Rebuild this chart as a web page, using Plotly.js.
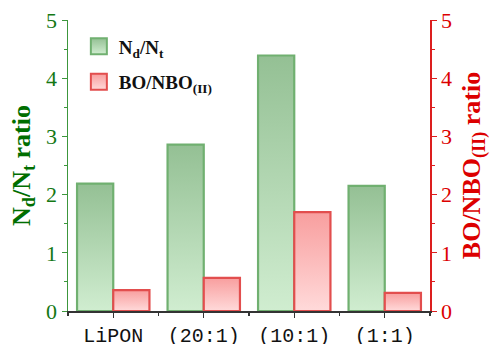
<!DOCTYPE html>
<html>
<head>
<meta charset="utf-8">
<script src="https://cdn.plot.ly/plotly-3.0.1.min.js"></script>
<style>html,body{margin:0;padding:0;background:#fff;}#chart{width:490px;height:344px;}</style>
</head>
<body>
<div id="chart"></div>
<script>
const categories = ['LiPON', '(20:1)', '(10:1)', '(1:1)'];
const ndntRatio = [2.19, 2.86, 4.39, 2.15];
const boNboRatio = [0.36, 0.57, 1.70, 0.31];
const yTickVals = [0, 1, 2, 3, 4, 5];

const GREEN_TOP = 'rgb(148,192,148)', GREEN_BOT = 'rgb(208,237,208)', GREEN_LINE = 'rgb(112,176,112)';
const RED_TOP = 'rgb(248,158,158)', RED_BOT = 'rgb(255,218,218)', RED_LINE = 'rgb(226,78,78)';
const BAR_W = 0.4;
const SERIF = '"Liberation Serif", "Times New Roman", serif';
const MONO = '"Liberation Mono", "Courier New", monospace';

const traces = [];
function barTrace(i, v, offset, yaxis, top, bot, line) {
  const x0 = i + offset, x1 = i + offset + BAR_W;
  return {
    type: 'scatter', mode: 'lines', xaxis: 'x', yaxis: yaxis,
    x: [x0, x0, x1, x1, x0], y: [0, v, v, 0, 0],
    fill: 'toself', fillcolor: bot,
    fillgradient: {type: 'vertical', colorscale: [[0, bot], [1, top]]},
    line: {color: line, width: 2.2}, showlegend: false, hoverinfo: 'skip'
  };
}
ndntRatio.forEach((v, i) => traces.push(barTrace(i, v, -BAR_W, 'y', GREEN_TOP, GREEN_BOT, GREEN_LINE)));
boNboRatio.forEach((v, i) => traces.push(barTrace(i, v, 0, 'y2', RED_TOP, RED_BOT, RED_LINE)));

traces.push({type:'scatter', mode:'markers', x:[null], y:[null], name:'N<sub>d</sub>/N<sub>t</sub>', legendgroup:'a',
  marker:{symbol:'square', size:16, color:GREEN_TOP, gradient:{type:'vertical', color:GREEN_BOT}, line:{color:GREEN_LINE, width:2}}});
traces.push({type:'scatter', mode:'markers', x:[null], y:[null], name:'BO/NBO<sub>(II)</sub>', legendgroup:'b', yaxis:'y2',
  marker:{symbol:'square', size:16, color:RED_TOP, gradient:{type:'vertical', color:RED_BOT}, line:{color:RED_LINE, width:2}}});

const layout = {
  width: 490, height: 344,
  margin: {l: 68, r: 60, t: 20, b: 33},
  paper_bgcolor: '#fff', plot_bgcolor: '#fff',
  showlegend: true,
  legend: {x: 0.03, y: 0.975, xanchor: 'left', yanchor: 'top', bgcolor: 'rgba(0,0,0,0)',
    font: {family: SERIF, size: 19, color: '#111', weight: 'bold'}, tracegroupgap: 8},
  xaxis: {
    range: [-0.5, 3.5], tickvals: [0, 1, 2, 3], ticktext: categories,
    ticks: 'outside', ticklen: 5, tickcolor: '#333', tickwidth: 1.2,
    minor: {tickvals: [-0.5, 0.5, 1.5, 2.5, 3.5], ticks: 'outside', ticklen: 3, tickcolor: '#333'},
    showline: true, linecolor: '#333', linewidth: 1.5, showgrid: false, zeroline: false,
    tickfont: {family: MONO, size: 20, color: '#111'}
  },
  xaxis2: {
    overlaying: 'x', side: 'top', range: [-0.5, 3.5], tickvals: [0, 1, 2, 3], showticklabels: false,
    ticks: 'inside', ticklen: 5, tickcolor: '#333',
    minor: {tickvals: [0.5, 1.5, 2.5], ticks: 'inside', ticklen: 3, tickcolor: '#333'},
    showline: true, linecolor: '#333', linewidth: 1.5, showgrid: false, zeroline: false
  },
  yaxis: {
    range: [0, 5], tickvals: yTickVals, ticks: 'outside', ticklen: 5, tickcolor: 'rgb(60,150,60)',
    minor: {dtick: 0.5, ticks: 'outside', ticklen: 3, tickcolor: 'rgb(60,150,60)'},
    showline: true, linecolor: 'rgb(60,150,60)', linewidth: 1.5, showgrid: false, zeroline: false,
    tickfont: {family: SERIF, size: 22, color: 'rgb(20,120,20)'},
    title: {text: 'N<sub>d</sub>/N<sub>t</sub> ratio', standoff: 8,
      font: {family: SERIF, size: 26, color: 'rgb(0,110,0)', weight: 'bold'}}
  },
  yaxis2: {
    overlaying: 'y', side: 'right', range: [0, 5], tickvals: yTickVals, ticks: 'outside', ticklen: 5,
    tickcolor: 'rgb(220,30,30)',
    minor: {dtick: 0.5, ticks: 'outside', ticklen: 3, tickcolor: 'rgb(220,30,30)'},
    showline: true, linecolor: 'rgb(220,30,30)', linewidth: 1.5, showgrid: false, zeroline: false,
    tickfont: {family: SERIF, size: 22, color: 'rgb(220,0,0)'},
    title: {text: 'BO/NBO<sub>(II)</sub> ratio', standoff: 13,
      font: {family: SERIF, size: 26, color: 'rgb(220,0,0)', weight: 'bold'}}
  }
};
Plotly.newPlot('chart', traces, layout, {displayModeBar: false, staticPlot: true});
</script>
</body>
</html>
